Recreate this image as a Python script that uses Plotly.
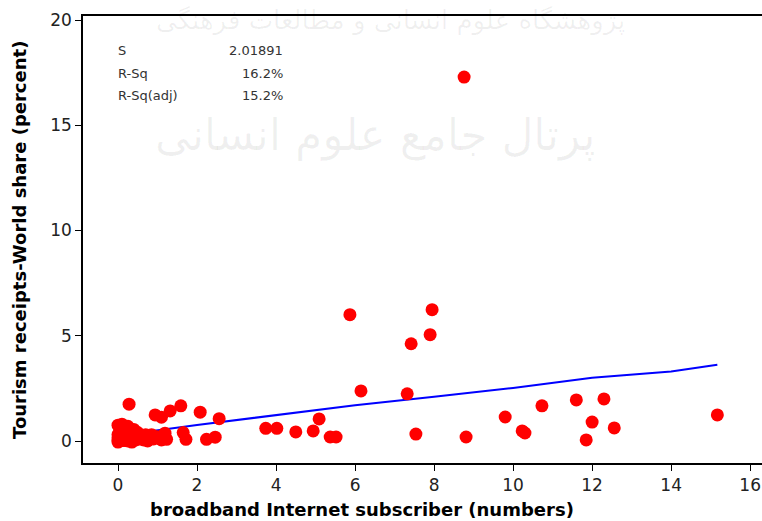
import plotly.graph_objects as go

# scatter data: broadband subscribers (x) vs tourism receipts world share (y)
x_vals = [8.76, 5.87, 7.95, 7.90, 7.42, 6.15, 7.32, 7.54, 8.81, 5.09,
          3.74, 4.02, 4.50, 4.94, 5.37, 5.52, 9.80, 10.23, 10.30, 10.73,
          11.60, 12.30, 12.00, 11.85, 12.56, 15.17,
          0.28, 0.94, 1.10, 1.32, 1.59, 2.08, 2.56, 1.65, 1.72, 1.19, 1.23, 2.24, 2.46,
          0.00, 0.10, 0.25, 0.05, 0.15, 0.30, 0.00, 0.10, 0.20, 0.35, 0.40, 0.50,
          0.55, 0.00, 0.05, 0.10, 0.15, 0.20, 0.25, 0.30, 0.45, 0.60, 0.65, 0.70,
          0.80, 0.90, 1.00, 1.10, 0.00, 0.35, 0.75, 0.85, 0.50, 0.20, 0.40, 0.00, 1.20]
y_vals = [17.29, 6.00, 6.24, 5.05, 4.62, 2.38, 2.24, 0.33, 0.19, 1.05,
          0.60, 0.60, 0.43, 0.48, 0.19, 0.19, 1.14, 0.48, 0.38, 1.67,
          1.95, 2.00, 0.90, 0.05, 0.62, 1.24,
          1.75, 1.24, 1.13, 1.43, 1.67, 1.37, 1.06, 0.40, 0.08, 0.37, 0.08, 0.08, 0.18,
          0.75, 0.80, 0.70, 0.55, 0.45, 0.50, 0.30, 0.25, 0.20, 0.30, 0.15, 0.25,
          0.10, 0.05, 0.00, 0.10, 0.02, 0.05, 0.00, 0.08, 0.05, 0.20, 0.05, 0.30,
          0.15, 0.10, 0.20, 0.05, -0.05, -0.05, 0.00, 0.30, 0.40, 0.60, 0.55, 0.15, 0.15]

# fitted regression line
fit_x = [0.00, 0.73, 2.0, 4.0, 6.0, 8.0, 10.0, 12.0, 14.0, 15.17]
fit_y = [0.30, 0.44, 0.76, 1.24, 1.70, 2.10, 2.52, 3.00, 3.30, 3.62]

stat_names = ["S", "R-Sq", "R-Sq(adj)"]
stat_values = ["2.01891", "16.2%", "15.2%"]

x_ticks = [0, 2, 4, 6, 8, 10, 12, 14, 16]
y_ticks = [0, 5, 10, 15, 20]

fig = go.Figure()
fig.add_trace(go.Scatter(x=fit_x, y=fit_y, mode="lines",
                         line=dict(color="#0000FF", width=2), showlegend=False))
fig.add_trace(go.Scatter(x=x_vals, y=y_vals, mode="markers",
                         marker=dict(color="#FF0000", size=13, line=dict(width=0)),
                         showlegend=False))

font_tick = dict(family="DejaVu Sans", size=17, color="#222")
fig.update_xaxes(range=[-0.886, 16.30], tickvals=x_ticks, ticks="outside", ticklen=6,
                 tickcolor="black", showline=True, linecolor="black", linewidth=1.5,
                 mirror=True, showgrid=False, zeroline=False, tickfont=font_tick,
                 automargin=False)
fig.update_yaxes(range=[-1.045, 20.19], tickvals=y_ticks, ticks="outside", ticklen=6,
                 tickcolor="black", showline=True, linecolor="black", linewidth=1.5,
                 showgrid=False, zeroline=False, tickfont=font_tick, automargin=False)

W, L, T, H = 679, 83, 16, 447


def px(xp):
    return (xp - L) / W


def py(yp):
    return (T + H - yp) / H


ann = []
# faint watermark of the source
ann.append(dict(text="پژوهشگاه علوم انسانی و مطالعات فرهنگی", xref="paper", yref="paper",
                x=px(390), y=py(20), xanchor="center", yanchor="middle", showarrow=False,
                font=dict(family="DejaVu Sans", size=26, color="rgba(0,0,0,0.06)")))
ann.append(dict(text="پرتال جامع علوم انسانی", xref="paper", yref="paper",
                x=px(375), y=py(135), xanchor="center", yanchor="middle", showarrow=False,
                font=dict(family="DejaVu Sans", size=44, color="rgba(0,0,0,0.06)")))
rows_y = [51, 73, 95]
for name, val, yy in zip(stat_names, stat_values, rows_y):
    ann.append(dict(text=name, xref="paper", yref="paper", x=px(116), y=py(yy),
                    xanchor="left", yanchor="middle", showarrow=False,
                    font=dict(family="DejaVu Sans", size=13, color="#333")))
    ann.append(dict(text=val, xref="paper", yref="paper", x=px(285), y=py(yy),
                    xanchor="right", yanchor="middle", showarrow=False,
                    font=dict(family="DejaVu Sans", size=13, color="#333")))
ann.append(dict(text="<b>broadband Internet subscriber (numbers)</b>", xref="paper",
                yref="paper", x=px(362), y=py(509), xanchor="center",
                yanchor="middle", showarrow=False,
                font=dict(family="DejaVu Sans", size=18, color="black")))
ann.append(dict(text="<b>Tourism receipts-World share (percent)</b>", xref="paper",
                yref="paper", x=px(19), y=py(240), xanchor="center",
                yanchor="middle", textangle=-90, showarrow=False,
                font=dict(family="DejaVu Sans", size=18, color="black")))

fig.update_layout(width=762, height=521, margin=dict(l=L, r=0, t=T, b=58),
                  plot_bgcolor="white", paper_bgcolor="white", annotations=ann)

fig.write_html("out.html", config={"displayModeBar": False},
               post_script="document.body.style.margin='0';document.body.style.overflow='hidden';")
